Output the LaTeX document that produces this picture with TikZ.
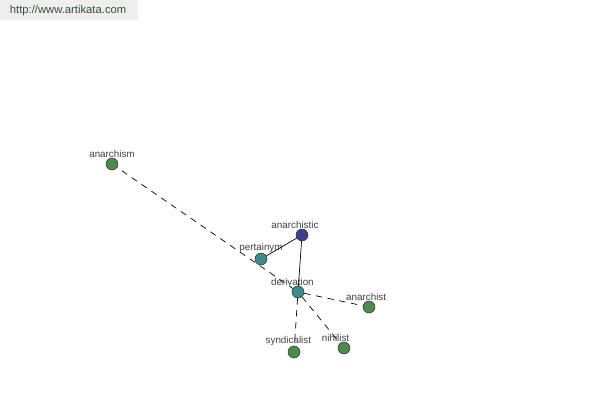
\documentclass[tikz,border=0pt]{standalone}
\usepackage{fontspec}
\setmainfont{Liberation Sans}
\definecolor{nodegreen}{HTML}{4E8A4E}
\definecolor{nodeteal}{HTML}{3F8C8C}
\definecolor{nodeblue}{HTML}{3F3F8F}
\definecolor{urlgray}{HTML}{EEEEEE}
\definecolor{urltext}{HTML}{3E4A3E}
\begin{document}
\begin{tikzpicture}[x=0.025cm, y=-0.025cm,
  word/.style={circle, draw=black!80, line width=0.4pt, inner sep=0pt, minimum size=8.5pt},
  lbl/.style={font=\fontsize{7}{8}\selectfont, text=black!75, inner sep=1pt},
  rel/.style={draw=black, line width=0.5pt},
  weak/.style={rel, dash pattern=on 4.5pt off 4pt}]
\useasboundingbox (0,0) rectangle (600,400);
\fill[urlgray] (0,0) rectangle (138,20);
\node[font=\fontsize{8}{9}\selectfont, text=urltext, anchor=west] (url) at (5,11) {http://www.artikata.com};

% long dashed line first, so pertainym sits on top of it
\coordinate (a) at (112,164);
\coordinate (d) at (298,292);
\draw[weak] (a) -- (d);

\node[word, fill=nodegreen, label={[lbl, yshift=-1pt]above:anarchism}] (anarchism) at (a) {};
\node[word, fill=nodeblue, label={[lbl, xshift=-5pt, yshift=-1pt]above:anarchistic}] (anarchistic) at (302,235) {};
\node[word, fill=nodeteal, label={[lbl, yshift=-1pt]above:pertainym}] (pertainym) at (261,259) {};
\node[word, fill=nodeteal, label={[lbl, xshift=-4pt, yshift=-1pt]above:derivation}] (derivation) at (d) {};
\node[word, fill=nodegreen, label={[lbl, xshift=-2pt, yshift=-1pt]above:anarchist}] (anarchist) at (369,307) {};
\node[word, fill=nodegreen, label={[lbl, xshift=-4pt, yshift=-1pt]above:syndicalist}] (syndicalist) at (294,352) {};
\node[word, fill=nodegreen, label={[lbl, xshift=-6pt, yshift=-1pt]above:nihilist}] (nihilist) at (344,348) {};

\draw[rel] (pertainym) -- (anarchistic);
\draw[rel] (anarchistic) -- (derivation);
\draw[weak] (derivation) -- (anarchist);
\draw[weak] (derivation) -- (syndicalist);
\draw[weak] (derivation) -- (nihilist);
\end{tikzpicture}
\end{document}
